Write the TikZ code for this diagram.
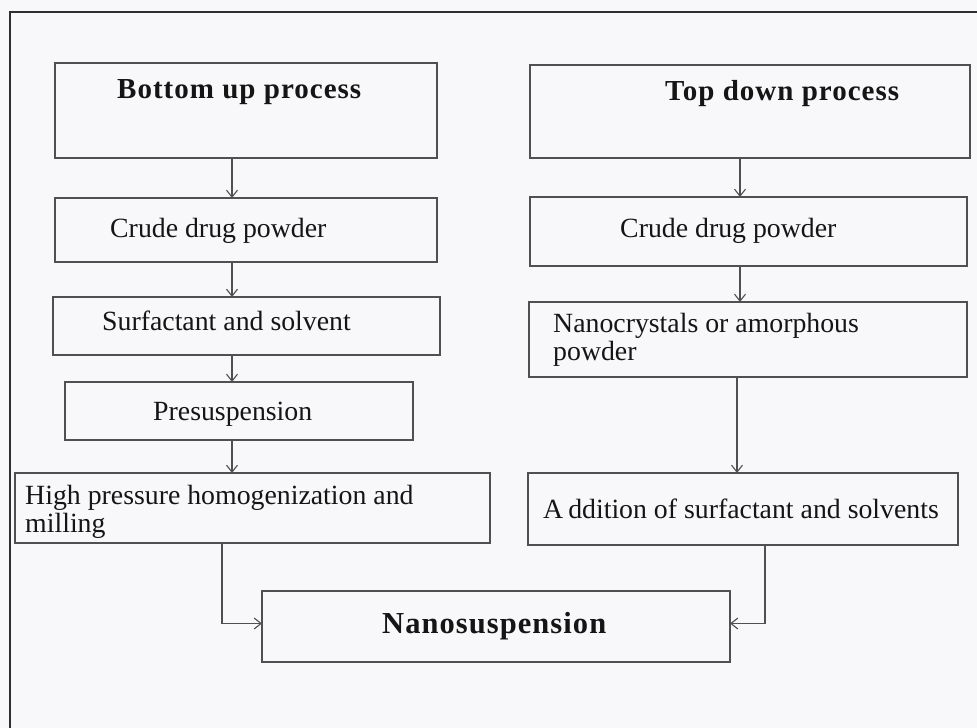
\documentclass[tikz,border=0pt]{standalone}
\usepackage{fontspec}
\setmainfont{Liberation Serif}
\usetikzlibrary{arrows.meta}
\definecolor{paper}{HTML}{F8F8FA}
\definecolor{ink}{HTML}{505050}
\definecolor{frame}{HTML}{2E2E2E}
\definecolor{txt}{HTML}{151515}
\tikzset{
  stepbox/.style={draw=ink, line width=1.3pt, rectangle, inner sep=0pt, outer sep=0pt},
  lbl/.style={anchor=base west, inner sep=0pt, text=txt, font=\fontsize{27.8}{28}\selectfont},
  blbl/.style={anchor=base west, inner sep=0pt, text=txt, font=\fontsize{29}{33}\selectfont\bfseries\addfontfeatures{LetterSpace=3.5}},
  arr/.style={draw=ink, line width=1.1pt, -{Straight Barb[length=7pt,width=11pt]}}
}
\begin{document}
\begin{tikzpicture}[x=1pt,y=-1pt]
\useasboundingbox (0,0) rectangle (977,728);
\fill[paper] (0,0) rectangle (977,728);
% outer frame
\draw[frame, line width=2.2pt] (10,730) -- (10,12) -- (979,12);

% column guides
\coordinate (colL) at (232,0);
\coordinate (colR) at (740,0);
\coordinate (colR2) at (737,0);
\coordinate (hpx) at (222,0);
\coordinate (addx) at (765,0);

% left column boxes
\node[stepbox, minimum width=382pt, minimum height=95pt] (bu) at (246,110.5) {};
\node[stepbox, minimum width=382pt, minimum height=64pt] (cdL) at (246,230) {};
\node[stepbox, minimum width=387pt, minimum height=58pt] (sf) at (246.5,326) {};
\node[stepbox, minimum width=348pt, minimum height=58pt] (ps) at (239,411) {};
\node[stepbox, minimum width=475pt, minimum height=70pt] (hp) at (252.5,508) {};
% right column boxes
\node[stepbox, minimum width=440pt, minimum height=93pt] (td) at (750,111.5) {};
\node[stepbox, minimum width=437pt, minimum height=69pt] (cdR) at (748.5,231.5) {};
\node[stepbox, minimum width=438pt, minimum height=75pt] (nc) at (748,339.5) {};
\node[stepbox, minimum width=430pt, minimum height=72pt] (add) at (743,509) {};
% final box
\node[stepbox, minimum width=468pt, minimum height=71pt] (nano) at (496,626.5) {};

% texts
\node[blbl] (tbu) at (117,98) {Bottom up process};
\node[lbl] (tcdL) at (110,237) {Crude drug powder};
\node[lbl] (tsf) at (102,330) {Surfactant and solvent};
\node[lbl] (tps) at (153,420) {Presuspension};
\node[lbl, align=left] (thp) at (25,532) {High pressure homogenization and\\milling};
\node[blbl] (ttd) at (665,100) {Top down process};
\node[lbl] (tcdR) at (620,237) {Crude drug powder};
\node[lbl, align=left] (tnc) at (553,360) {Nanocrystals or amorphous\\powder};
\node[lbl] (tadd) at (543,518) {A\kern5pt ddition of surfactant and solvents};
\node[blbl, font=\fontsize{30.5}{33}\selectfont\bfseries\addfontfeatures{LetterSpace=3.5}] (tnano) at (382,633) {Nanosuspension};

% connectors
\draw[arr] (bu.south -| colL) -- (cdL.north -| colL);
\draw[arr] (cdL.south -| colL) -- (sf.north -| colL);
\draw[arr] (sf.south -| colL) -- (ps.north -| colL);
\draw[arr] (ps.south -| colL) -- (hp.north -| colL);
\draw[arr] (td.south -| colR) -- (cdR.north -| colR);
\draw[arr] (cdR.south -| colR) -- (nc.north -| colR);
\draw[arr] (nc.south -| colR2) -- (add.north -| colR2);
\draw[arr] (hp.south -| hpx) |- ([yshift=3pt]nano.west);
\draw[arr] (add.south -| addx) |- ([yshift=3pt]nano.east);
\end{tikzpicture}
\end{document}
